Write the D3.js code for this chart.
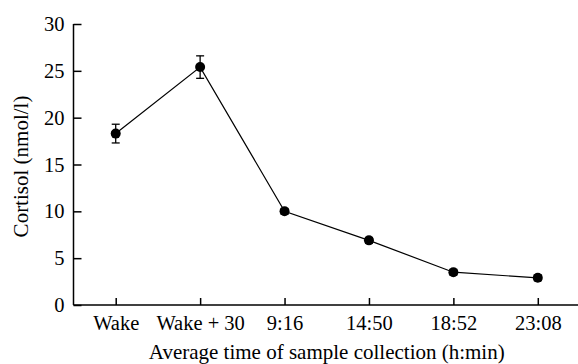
<!DOCTYPE html>
<html>
<head>
<meta charset="utf-8">
<script src="https://cdn.jsdelivr.net/npm/d3@7"></script>
<style>
  body { margin: 0; background: #fff; }
  svg text { font-family: "Liberation Serif", "DejaVu Serif", serif; fill: #000; }
  .tick text { font-size: 20.5px; }
  .title { font-size: 21px; }
</style>
</head>
<body>
<div id="chart"></div>
<script>
const categories = ["Wake", "Wake + 30", "9:16", "14:50", "18:52", "23:08"];
const cortisol = [18.3, 25.4, 10.0, 6.9, 3.5, 2.9];
const errors = [1.0, 1.2, 0.3, 0.3, 0.3, 0.3];
const yTicks = [0, 5, 10, 15, 20, 25, 30];

const width = 578, height = 364;
const margin = {left: 73.5, right: -2, top: 24, bottom: 59};

const svg = d3.select("#chart").append("svg")
    .attr("width", width)
    .attr("height", height);

const x = d3.scalePoint()
    .domain(categories)
    .range([margin.left, width - margin.right])
    .padding(0.5);

const y = d3.scaleLinear()
    .domain([0, 30])
    .range([height - margin.bottom, margin.top]);

// y axis, ticks pointing right
const yAxis = svg.append("g")
    .attr("transform", `translate(${margin.left},0)`)
    .call(d3.axisLeft(y).tickValues(yTicks).tickSizeInner(-8).tickSizeOuter(0).tickPadding(9));
yAxis.select(".domain").attr("d", `M0,${y(30)}V${y(0)}`);

// x axis, ticks pointing up
const xAxis = svg.append("g")
    .attr("transform", `translate(0,${y(0)})`)
    .call(d3.axisBottom(x).tickSizeInner(-7).tickSizeOuter(0).tickPadding(10));
xAxis.select(".domain").attr("d", `M${margin.left},0H${width}`);

svg.selectAll(".domain, .tick line").attr("stroke", "#000").attr("stroke-width", 1.5);

// line
const line = d3.line()
    .x((d, i) => x(categories[i]))
    .y(d => y(d));

svg.append("path")
    .datum(cortisol)
    .attr("fill", "none")
    .attr("stroke", "#000")
    .attr("stroke-width", 1.2)
    .attr("d", line);

// error bars
const eb = svg.append("g").selectAll("g")
    .data(cortisol)
    .enter().append("g")
    .attr("stroke", "#000")
    .attr("stroke-width", 1.3);
eb.append("line")
    .attr("x1", (d, i) => x(categories[i]))
    .attr("x2", (d, i) => x(categories[i]))
    .attr("y1", (d, i) => y(d + errors[i]))
    .attr("y2", (d, i) => y(d - errors[i]));
eb.append("line")
    .attr("x1", (d, i) => x(categories[i]) - 4)
    .attr("x2", (d, i) => x(categories[i]) + 4)
    .attr("y1", (d, i) => y(d + errors[i]))
    .attr("y2", (d, i) => y(d + errors[i]));
eb.append("line")
    .attr("x1", (d, i) => x(categories[i]) - 4)
    .attr("x2", (d, i) => x(categories[i]) + 4)
    .attr("y1", (d, i) => y(d - errors[i]))
    .attr("y2", (d, i) => y(d - errors[i]));

// points
svg.append("g").selectAll("circle")
    .data(cortisol)
    .enter().append("circle")
    .attr("cx", (d, i) => x(categories[i]))
    .attr("cy", d => y(d))
    .attr("r", 5)
    .attr("fill", "#000");

// titles
svg.append("text")
    .attr("class", "title")
    .attr("x", (margin.left + width - margin.right) / 2)
    .attr("y", 359)
    .attr("text-anchor", "middle")
    .text("Average time of sample collection (h:min)");

svg.append("text")
    .attr("class", "title")
    .attr("transform", `translate(28,${(y(0) + y(30)) / 2 + 2}) rotate(-90)`)
    .attr("text-anchor", "middle")
    .text("Cortisol (nmol/l)");
</script>
</body>
</html>
